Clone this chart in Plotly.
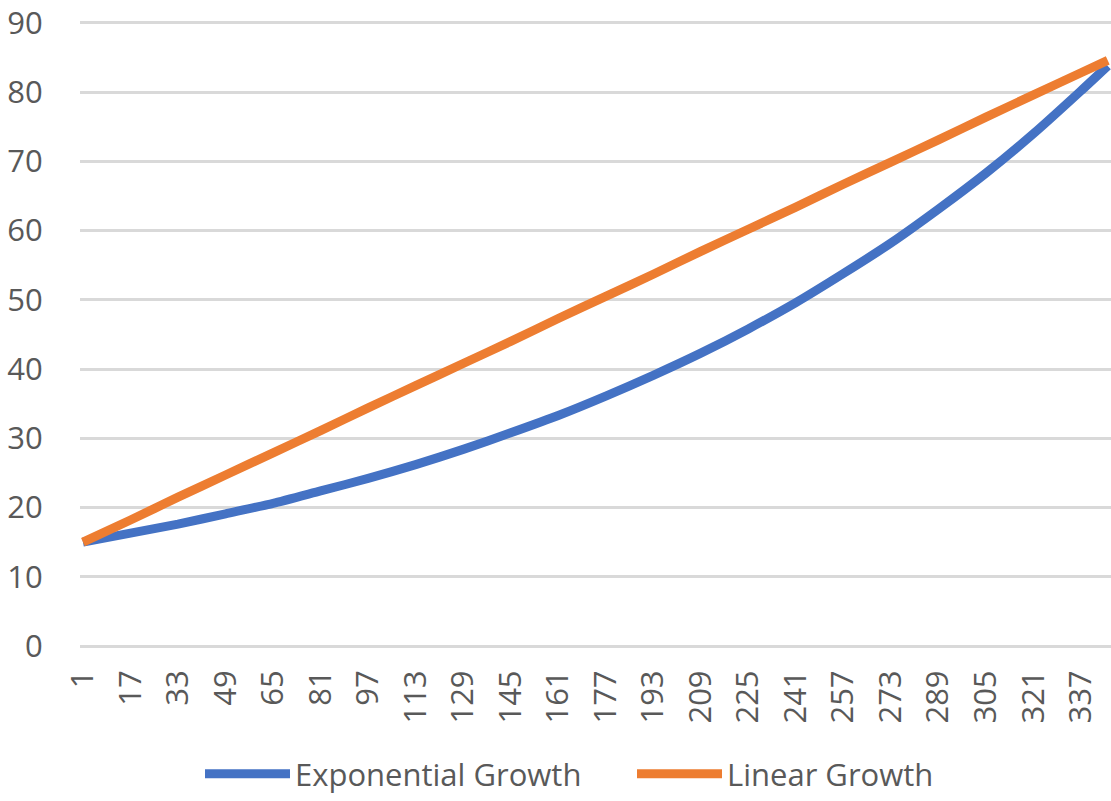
import plotly.graph_objects as go

# Period numbers (categories) at which values are listed
periods = [1, 17, 33, 49, 65, 81, 97, 113, 129, 145, 161, 177, 193, 209,
           225, 241, 257, 273, 289, 305, 321, 337, 346]

exponential_growth = [15.0, 16.3, 17.6, 19.1, 20.6, 22.4, 24.2, 26.2, 28.4,
                      30.8, 33.3, 36.1, 39.1, 42.3, 45.8, 49.6, 53.8, 58.2,
                      63.1, 68.3, 74.0, 80.2, 83.8]

linear_growth = [15.0, 18.2, 21.5, 24.7, 27.9, 31.1, 34.4, 37.6, 40.8, 44.0,
                 47.3, 50.5, 53.7, 57.0, 60.2, 63.4, 66.7, 69.9, 73.1, 76.4,
                 79.6, 82.8, 84.6]

tick_labels = [str(p) for p in range(1, 338, 16)]
tick_positions = list(range(1, 338, 16))
y_ticks = list(range(0, 91, 10))

BLUE = "#4472C4"
ORANGE = "#ED7D31"
GRID = "#D9D9D9"
TEXT = "#595959"
FONT = "Open Sans"

fig = go.Figure()
fig.add_trace(go.Scatter(
    x=periods, y=exponential_growth, name="Exponential Growth",
    mode="lines", line=dict(color=BLUE, width=9, shape="spline", smoothing=0.6),
))
fig.add_trace(go.Scatter(
    x=periods, y=linear_growth, name="Linear Growth",
    mode="lines", line=dict(color=ORANGE, width=9, shape="spline", smoothing=0.6),
))

fig.update_layout(
    width=1111, height=801,
    margin=dict(l=80, r=0, t=16, b=155, autoexpand=False),
    paper_bgcolor="white", plot_bgcolor="white",
    font=dict(family=FONT, size=31, color=TEXT),
    showlegend=True,
    legend=dict(
        orientation="h", xref="container", x=200 / 1111, xanchor="left",
        yref="container", y=0, yanchor="bottom",
        font=dict(family=FONT, size=31, color=TEXT),
        itemwidth=85, entrywidth=332, entrywidthmode="pixels",
        bgcolor="rgba(0,0,0,0)",
    ),
    xaxis=dict(
        range=[0, 347.1], tickmode="array", tickvals=tick_positions,
        ticktext=tick_labels, tickangle=-90, showgrid=False, zeroline=False,
        showline=False, ticks="outside", ticklen=11,
        tickcolor="rgba(0,0,0,0)", ticklabeloverflow="allow",
        tickfont=dict(family=FONT, size=31, color=TEXT),
    ),
    yaxis=dict(
        range=[0, 91], tickmode="array", tickvals=y_ticks,
        showgrid=True, gridcolor=GRID,
        gridwidth=2.5, zeroline=True, zerolinecolor=GRID, zerolinewidth=2.5,
        showline=False, ticks="outside", ticklen=30,
        tickcolor="rgba(0,0,0,0)", ticklabeloverflow="allow",
        tickfont=dict(family=FONT, size=31, color=TEXT),
    ),
)

fig.write_html("out.html")
